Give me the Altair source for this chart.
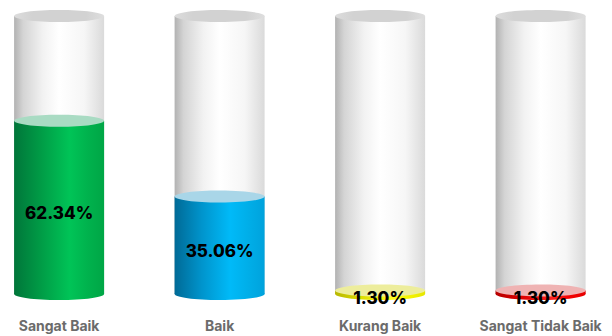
import altair as alt
import pandas as pd

categories = ["Sangat Baik", "Baik", "Kurang Baik", "Sangat Tidak Baik"]
values = [62.34, 35.06, 1.30, 1.30]
labels = ["62.34%", "35.06%", "1.30%", "1.30%"]

# style: gradient stops for each liquid, and its top-surface colour
liquid_stops = [
    ["#00763a", "#009c46", "#00c457", "#00b24d", "#00a646"],
    ["#006a96", "#0094cc", "#00baf8", "#00aee8", "#00a2dc"],
    ["#b8b800", "#dede00", "#ffff20", "#f4f400", "#e6e600"],
    ["#b80000", "#de0000", "#ff2020", "#f40000", "#e60000"],
]
liquid_top = ["#a9dbc3", "#a9d6e8", "#eded9c", "#efb3b3"]
stop_pos = [0.0, 0.3, 0.62, 0.82, 1.0]

df = pd.DataFrame({
    "idx": list(range(len(categories))),
    "cat": categories,
    "value": values,
    "label": labels,
})
df["full"] = 100.0
df["zero"] = 0.0

xs = alt.Scale(domain=[-0.3371, 3.4137], nice=False, zero=False)
ys = alt.Scale(domain=[-15.108, 105.755], nice=False, zero=False)
X = alt.X("idx:Q", scale=xs, axis=None)

W = 90
k = 6 / 45
c = 0.5523
ell = (f"M-1,0 C-1,{-c*k:.4f} {-c:.4f},{-k:.4f} 0,{-k:.4f} "
       f"C{c:.4f},{-k:.4f} 1,{-c*k:.4f} 1,0 "
       f"C1,{c*k:.4f} {c:.4f},{k:.4f} 0,{k:.4f} "
       f"C{-c:.4f},{k:.4f} -1,{c*k:.4f} -1,0 Z")


def grad(cols, pos):
    return alt.Gradient(
        gradient="linear",
        stops=[alt.GradientStop(color=cc, offset=p) for cc, p in zip(cols, pos)],
        x1=0, x2=1, y1=0, y2=0,
    )


glass = grad(["#b2b2b2", "#d4d4d4", "#f2f2f2", "#ffffff", "#f6f6f6", "#dadada"],
             [0.0, 0.1, 0.32, 0.5, 0.78, 1.0])
glass_top = grad(["#dcdcdc", "#d2d2d2", "#d2d2d2", "#dedede"], [0.0, 0.2, 0.8, 1.0])

base = alt.Chart(df)
layers = []

body = base.mark_bar(size=W, fill=glass, strokeWidth=0).encode(
    x=X, y=alt.Y("zero:Q", scale=ys, axis=None), y2="full:Q")
top = base.mark_point(shape=ell, size=W * W, filled=True, fill=glass_top,
                      opacity=1, strokeWidth=0).encode(
    x=X, y=alt.Y("full:Q", scale=ys, axis=None))
layers += [body, top]

for i in range(len(categories)):
    sub = base.transform_filter(alt.datum.idx == i)
    g = grad(liquid_stops[i], stop_pos)
    layers.append(sub.mark_point(shape=ell, size=W * W, filled=True, fill=g,
                                 opacity=1, strokeWidth=0).encode(
        x=X, y=alt.Y("zero:Q", scale=ys, axis=None)))
    layers.append(sub.mark_bar(size=W, fill=g, strokeWidth=0).encode(
        x=X, y=alt.Y("zero:Q", scale=ys, axis=None), y2="value:Q"))
    layers.append(sub.mark_point(shape=ell, size=W * W, filled=True,
                                 fill=liquid_top[i], opacity=1,
                                 strokeWidth=0).encode(
        x=X, y=alt.Y("value:Q", scale=ys, axis=None)))

vals = base.transform_calculate(mid="datum.value / 2").mark_text(
    font="Inter", fontSize=17, fontWeight=800, color="#000000",
    baseline="middle", align="center", dy=7).encode(
    x=X, y=alt.Y("mid:Q", scale=ys, axis=None), text="label:N")

cats = base.mark_text(
    font="Inter", fontSize=14, fontWeight="bold", color="#6b6b6b",
    baseline="middle", align="center").encode(
    x=X, y=alt.value(327), text="cat:N")

layers += [vals, cats]

chart = alt.layer(*layers).properties(
    width=612, height=336,
    autosize=alt.AutoSizeParams(type="none"),
    padding=0,
    background="#ffffff",
).configure_view(stroke=None)

chart.save("out.html", embed_options={"renderer": "svg", "actions": False})
